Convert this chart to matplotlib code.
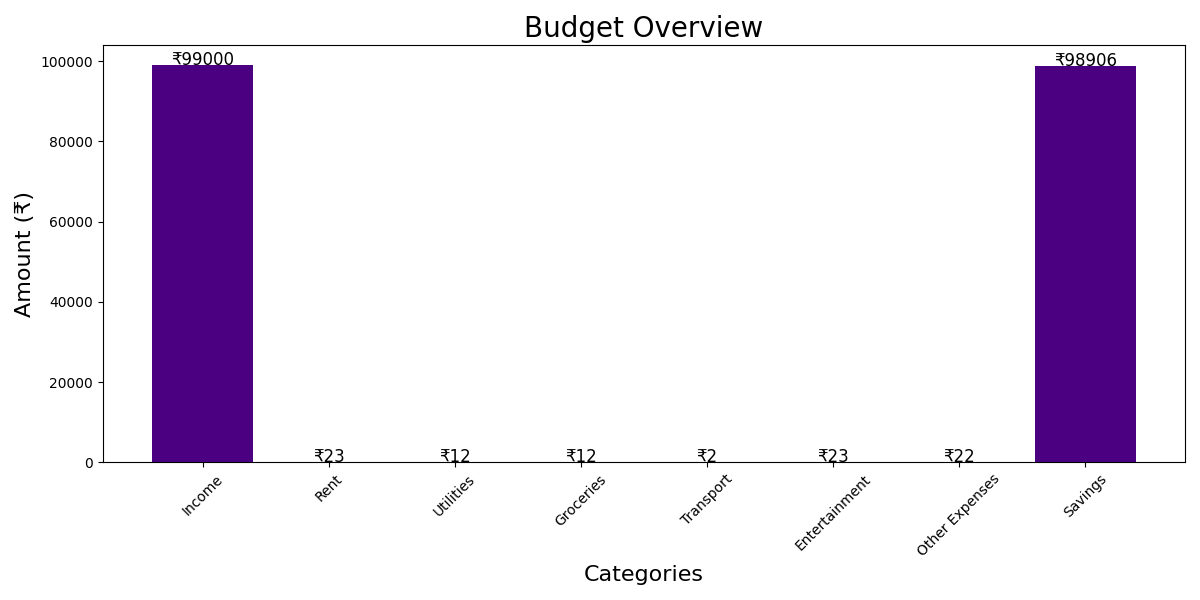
import matplotlib
matplotlib.use('Agg')
import matplotlib.pyplot as plt

# budget data
categories = ['Income', 'Rent', 'Utilities', 'Groceries', 'Transport',
              'Entertainment', 'Other Expenses', 'Savings']
amounts = [99000, 23, 12, 12, 2, 23, 22, 98906]

fig, ax = plt.subplots(figsize=(12, 6), dpi=100)
bars = ax.bar(categories, amounts, color='indigo')

for bar, val in zip(bars, amounts):
    ax.text(bar.get_x() + bar.get_width() / 2, bar.get_height(), f'₹{val}',
            ha='center', fontsize=12)

ax.set_title('Budget Overview', fontsize=20)
ax.set_xlabel('Categories', fontsize=16)
ax.set_ylabel('Amount (₹)', fontsize=16)
plt.xticks(rotation=45)

plt.tight_layout()
plt.savefig('out.png')
